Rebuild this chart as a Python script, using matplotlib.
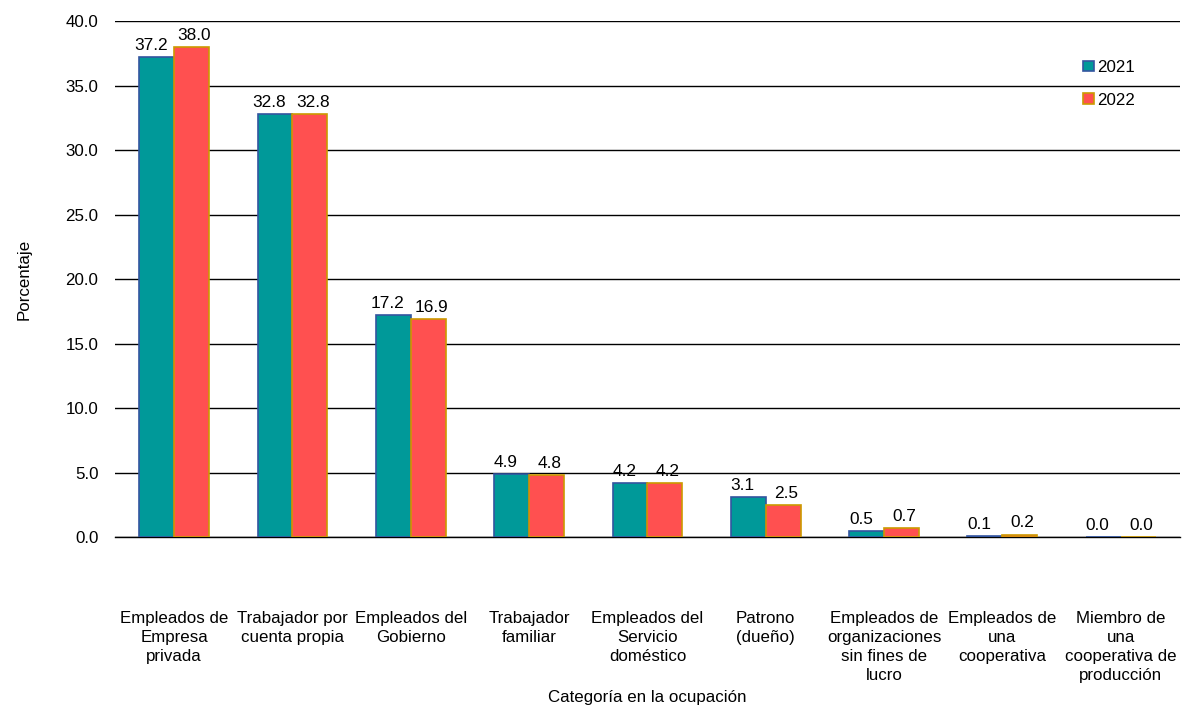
import matplotlib.pyplot as plt
import numpy as np

plt.rcParams['font.family'] = ['Liberation Sans', 'DejaVu Sans']

categories = [
    'Empleados de\nEmpresa\nprivada',
    'Trabajador por\ncuenta propia',
    'Empleados del\nGobierno',
    'Trabajador\nfamiliar',
    'Empleados del\nServicio\ndoméstico',
    'Patrono\n(dueño)',
    'Empleados de\norganizaciones\nsin fines de\nlucro',
    'Empleados de\nuna\ncooperativa',
    'Miembro de\nuna\ncooperativa de\nproducción',
]
vals_2021 = [37.2, 32.8, 17.2, 4.9, 4.2, 3.1, 0.5, 0.1, 0.02]
vals_2022 = [38.0, 32.8, 16.9, 4.8, 4.2, 2.5, 0.7, 0.2, 0.0]
yticks = np.arange(0, 40.1, 5)

fs = 12.2
fig = plt.figure(figsize=(11.93, 7.05), dpi=100)
ax = fig.add_axes([0.0964, 0.238, 0.8926, 0.732])

x = np.arange(len(categories))
w = 0.295
b1 = ax.bar(x - w / 2, vals_2021, w, color='#009999', edgecolor='#3355A0', linewidth=1.2, label='2021', zorder=3)
b2 = ax.bar(x + w / 2, vals_2022, w, color='#FF5050', edgecolor='#CC9900', linewidth=1.2, label='2022', zorder=3)

# data labels, the left ones pushed a little outward like in the original
for bars, vals, dx in ((b1, vals_2021, -4), (b2, vals_2022, 2)):
    for rect, v in zip(bars, vals):
        ax.annotate(f'{v:.1f}', (rect.get_x() + rect.get_width() / 2, v),
                    xytext=(dx, 3), textcoords='offset points',
                    ha='center', va='bottom', fontsize=12.4)

ax.set_xlim(-0.5, len(categories) - 0.5)
ax.set_ylim(0, 40)
ax.set_yticks(yticks)
ax.set_yticklabels([f'{t:.1f}' for t in yticks], fontsize=fs)
ax.set_xticks(x)
ax.set_xticklabels(categories, fontsize=fs, linespacing=1.33, va='top')
ax.tick_params(axis='x', length=0, pad=53)
ax.tick_params(axis='y', length=0, pad=12)
ax.yaxis.grid(True, color='black', linewidth=1.0, zorder=0)
ax.axhline(0, color='black', linewidth=1.0, zorder=2, clip_on=False)
for s in ax.spines.values():
    s.set_visible(False)

ax.set_xlabel('Categoría en la ocupación', fontsize=fs, labelpad=5)
ax.set_ylabel('Porcentaje', fontsize=fs, labelpad=24)

ax.legend(loc='upper left', bbox_to_anchor=(0.903, 0.938), frameon=False,
          fontsize=fs, handlelength=0.6, handleheight=0.6, handletextpad=0.2,
          labelspacing=1.05, borderaxespad=0)

fig.savefig('out.png', dpi=100)
